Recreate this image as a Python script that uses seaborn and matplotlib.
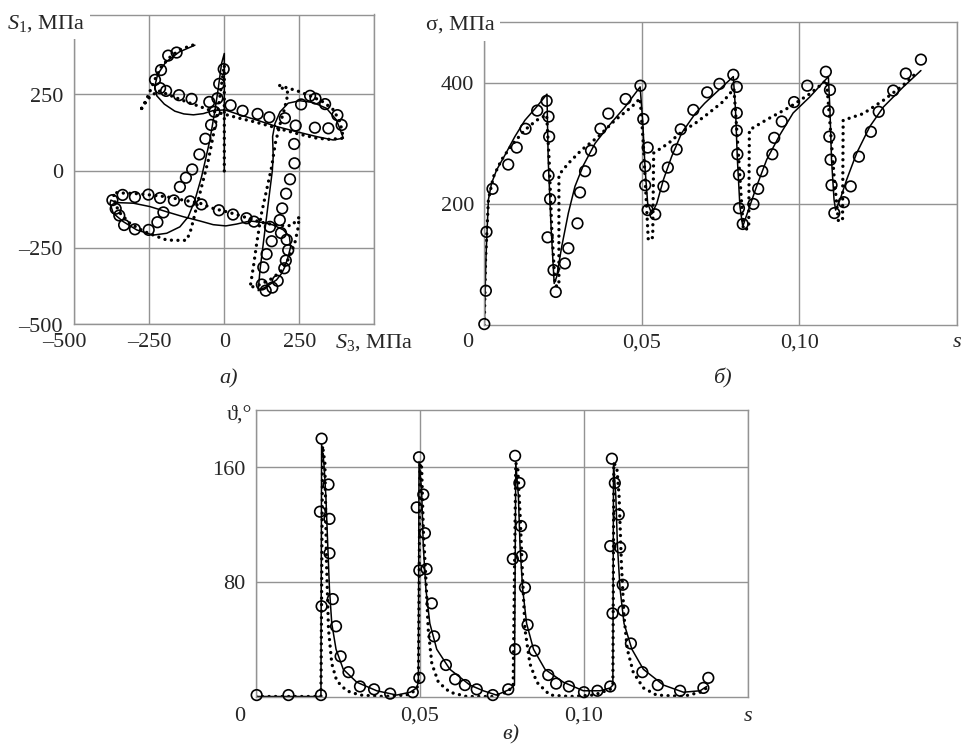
import matplotlib
matplotlib.use("Agg")
import matplotlib.pyplot as plt
import seaborn as sns

# ---------------- panel a: S1 vs S3 (MPa) ----------------
a_exp_s3 = [-2, -17, -23, -50, -109, -151, -194, -214, -231, -211, -187, -159,
            -33, -44, -63, -83, -107, -128, -148, -203, -223, -252, -298, -334,
            -350, -362, -373, -339, -298, -253, -214, -168, -114, -76, -18, 29,
            74, 99, 152, 189, 208, 213, 205, 200, 178, 160, 138, 125, 130, 141,
            158, 185, 193, 206, 219, 234, 233, 238, 302, 347, 391, 377, 336, 304,
            286, 256, 202, 150, 111, 61, 21]
a_exp_s1 = [332, 284, 237, 225, 235, 247, 261, 270, 297, 329, 376, 386,
            193, 150, 105, 54, 5, -22, -52, -135, -167, -192, -190, -176,
            -145, -123, -95, -78, -85, -77, -88, -96, -99, -109, -128, -142,
            -154, -165, -182, -202, -224, -258, -292, -317, -358, -380, -390, -370, -314, -271,
            -229, -160, -122, -74, -27, 25, 88, 148, 141, 139, 150, 182, 218, 236,
            245, 217, 172, 175, 186, 196, 214]

a_sol_s3 = [0, 0,
            -9, -20, -31, -48, -62, -76, -98, -120, -148, -192, -237, -292, -337, -370, -381, -378,
            -359, -303, -248, -192, -137, -81, -37, 5, 41, 86, 130, 163, 197, 217, 221, 213, 202, 191, 174, 141, 113,
            119, 130, 141, 152, 160, 163, 161, 169, 186, 213, 252, 297, 341, 374, 397,
            363, 308, 241, 174, 108, 52, 2, -37, -70, -103, -135, -165, -200, -225, -232, -222, -195, -150, -98]
a_sol_s1 = [0, 383,
            351, 270, 199, 101, 40, -20, -95, -149, -182, -203, -209, -192, -165, -138, -105, -95,
            -103, -105, -116, -133, -149, -163, -175, -179, -173, -163, -168, -176, -192, -214, -247, -279, -312, -334, -355, -377, -390,
            -323, -236, -149, -62, 0, 47, 112, 155, 193, 221, 229, 223, 204, 166, 107,
            101, 112, 128, 145, 166, 183, 199, 197, 187, 183, 186, 195, 218, 245, 275, 315, 355, 388, 410]

a_dot_s3 = [0, 0,
            -8, -18, -30, -42, -53, -70, -87, -103, -114, -126, -160, -192, -226, -270, -314, -345, -363, -370,
            -340, -303, -248, -192, -137, -81, -37, 8, 52, 97, 141, 186, 225, 250, 245, 235, 215, 190, 160, 120, 86,
            97, 108, 124, 141, 158, 170, 185, 200, 213, 180, 202, 241, 286, 330, 363, 386, 397,
            350, 308, 250, 197, 150, 97, 50, 8, -40, -81, -125, -170, -220, -255, -281, -262, -248, -232, -210, -180, -145, -100]
a_dot_s1 = [0, 345,
            290, 220, 150, 90, 36, -29, -95, -160, -200, -226, -226, -225, -213, -196, -171, -140, -110, -70,
            -72, -73, -78, -84, -95, -105, -122, -133, -145, -160, -171, -178, -178, -150, -190, -235, -285, -325, -350, -370, -380,
            -312, -236, -138, -62, 14, 90, 150, 200, 255, 280, 273, 262, 245, 225, 200, 160, 107,
            103, 107, 120, 134, 147, 161, 172, 183, 195, 210, 225, 242, 262, 235, 195, 228, 259, 297, 340, 372, 397, 412]

# ---------------- panel b: sigma (MPa) vs s ----------------
b_exp_s = [0, 0.0005, 0.0007, 0.0026, 0.0076, 0.0103, 0.0131, 0.0168, 0.0198, 0.0204,
           0.0206, 0.0204, 0.0209, 0.0201, 0.0220, 0.0227, 0.0256, 0.0267, 0.0296, 0.0304,
           0.0320, 0.0339, 0.0369, 0.0394, 0.0449, 0.0496, 0.0505, 0.0519, 0.0511, 0.0511,
           0.0519, 0.0543, 0.0569, 0.0583, 0.0611, 0.0624, 0.0664, 0.0708, 0.0747, 0.0791,
           0.0802, 0.0802, 0.0802, 0.0804, 0.0809, 0.0809, 0.0821, 0.0855, 0.0870, 0.0883,
           0.0915, 0.0921, 0.0945, 0.0984, 0.1026, 0.1085, 0.1098, 0.1093, 0.1096, 0.1100,
           0.1103, 0.1112, 0.1142, 0.1164, 0.1190, 0.1228, 0.1253, 0.1299, 0.1339, 0.1387]
b_exp_sig = [2, 57, 154, 225, 265, 293, 324, 354, 370, 344,
             311, 247, 208, 145, 91, 55, 102, 127, 168, 219,
             254, 288, 324, 349, 373, 395, 340, 293, 262, 231,
             190, 183, 229, 260, 290, 323, 355, 384, 398, 413,
             393, 350, 321, 282, 248, 193, 167, 200, 225, 254,
             282, 309, 336, 368, 395, 418, 388, 353, 311, 273,
             231, 185, 203, 229, 278, 319, 352, 387, 415, 438]

b_sol_s = [0, 0.0005, 0.0013, 0.0023, 0.0039, 0.0066, 0.0097, 0.0129, 0.0166, 0.0199,
           0.0203, 0.0212, 0.0222,
           0.0230, 0.0246, 0.0267, 0.0288, 0.0315, 0.0352, 0.0394, 0.0447, 0.0495,
           0.0503, 0.0511, 0.0519, 0.0532,
           0.0548, 0.0569, 0.0595, 0.0627, 0.0670, 0.0700, 0.0739, 0.0791,
           0.0798, 0.0804, 0.0812, 0.0821,
           0.0839, 0.0865, 0.0897, 0.0939, 0.0981, 0.1035, 0.1093,
           0.1098, 0.1103, 0.1111, 0.1116,
           0.1130, 0.1151, 0.1183, 0.1225, 0.1268, 0.1331, 0.1387]
b_sol_sig = [0, 108, 207, 234, 256, 281, 311, 338, 360, 381,
             273, 163, 69,
             80, 130, 185, 229, 264, 300, 328, 360, 393,
             338, 256, 201, 184,
             201, 240, 278, 317, 349, 366, 385, 410,
             355, 273, 196, 163,
             190, 229, 273, 314, 350, 377, 410,
             355, 273, 207, 190,
             207, 240, 284, 328, 360, 393, 420]

b_dot_s = [0, 0.0004, 0.0013, 0.0029, 0.0055, 0.0087, 0.0129, 0.0166, 0.0198,
           0.0206, 0.0214, 0.0225,
           0.0237, 0.0237, 0.0267, 0.0309, 0.0362, 0.0415, 0.0468, 0.0495,
           0.0505, 0.0513, 0.0521,
           0.0535, 0.0538, 0.0585, 0.0627, 0.0670, 0.0706, 0.0759, 0.0793,
           0.0805, 0.0815, 0.0823,
           0.0840, 0.0842, 0.0897, 0.0971, 0.1035, 0.1087,
           0.1100, 0.1112, 0.1125,
           0.1138, 0.1140, 0.1204, 0.1268, 0.1331, 0.1376]
b_dot_sig = [0, 108, 207, 245, 273, 297, 322, 338, 347,
             273, 163, 65,
             65, 248, 267, 289, 311, 338, 360, 374,
             300, 220, 140,
             145, 284, 300, 319, 333, 347, 369, 390,
             300, 220, 157,
             160, 322, 339, 360, 382, 404,
             320, 240, 171,
             175, 338, 349, 371, 396, 418]

# ---------------- panel c: theta (deg) vs s ----------------
c_exp_s = [0.0002, 0.0099, 0.0198, 0.0200, 0.0195, 0.0200, 0.0221, 0.0224, 0.0224, 0.0234,
           0.0244, 0.0258, 0.0282, 0.0317, 0.0360, 0.0409, 0.0478, 0.0498, 0.0497, 0.0490,
           0.0510, 0.0515, 0.0498, 0.0520, 0.0536, 0.0543, 0.0579, 0.0607, 0.0637, 0.0673,
           0.0722, 0.0769, 0.0790, 0.0783, 0.0790, 0.0803, 0.0808, 0.0810, 0.0820, 0.0828,
           0.0849, 0.0891, 0.0915, 0.0954, 0.1000, 0.1041, 0.1080, 0.1085, 0.1080, 0.1087,
           0.1094, 0.1106, 0.1110, 0.1118, 0.1120, 0.1143, 0.1178, 0.1225, 0.1293, 0.1364,
           0.1379]
c_exp_th = [1, 1, 1, 63, 129, 180, 148, 124, 100, 68,
            49, 28, 17, 7, 5, 2, 3, 13, 167, 132,
            141, 114, 88, 89, 65, 42, 22, 12, 8, 5,
            1, 5, 33, 96, 168, 149, 119, 98, 76, 50,
            32, 15, 9, 7, 3, 4, 7, 166, 105, 58,
            149, 127, 104, 78, 60, 37, 17, 8, 4, 6,
            13]

c_sol_s = [0, 0.0198, 0.0200, 0.0207, 0.0213, 0.0218, 0.0224, 0.0231, 0.0244, 0.0266, 0.0307, 0.0368, 0.0429, 0.0470, 0.0490, 0.0495,
           0.0497, 0.0505, 0.0510, 0.0518, 0.0530, 0.0551, 0.0591, 0.0652, 0.0693, 0.0733, 0.0774, 0.0788,
           0.0792, 0.0800, 0.0805, 0.0813, 0.0825, 0.0846, 0.0881, 0.0937, 0.0998, 0.1049, 0.1080, 0.1088,
           0.1090, 0.1097, 0.1102, 0.1110, 0.1122, 0.1146, 0.1181, 0.1242, 0.1303, 0.1354, 0.1374]
c_sol_th = [0, 0, 176, 163, 140, 110, 75, 51, 33, 19, 10, 4, 1, 3, 6, 10,
            164, 144, 105, 75, 51, 33, 19, 8, 4, 1, 5, 8,
            163, 140, 105, 75, 51, 33, 19, 10, 4, 4, 6, 8,
            163, 140, 105, 75, 51, 33, 19, 8, 3, 4, 7]

c_dot_s = [0, 0.0198, 0.0203, 0.0210, 0.0215, 0.0221, 0.0231, 0.0246, 0.0276, 0.0317, 0.0388, 0.0459, 0.0485, 0.0495,
           0.0500, 0.0505, 0.0510, 0.0518, 0.0525, 0.0536, 0.0556, 0.0591, 0.0642, 0.0720, 0.0764, 0.0784,
           0.0792, 0.0798, 0.0805, 0.0813, 0.0820, 0.0835, 0.0856, 0.0896, 0.0957, 0.1030, 0.1080, 0.1088,
           0.1091, 0.1100, 0.1107, 0.1114, 0.1122, 0.1132, 0.1150, 0.1181, 0.1221, 0.1302, 0.1354, 0.1374]
c_dot_th = [0, 0, 175, 163, 93, 47, 23, 11, 4, 1, 0, 1, 4, 8,
            163, 160, 117, 82, 47, 23, 10, 3, 0, 0, 3, 7,
            163, 160, 128, 82, 47, 23, 10, 1, 0, 1, 5, 8,
            163, 160, 140, 93, 56, 33, 17, 6, 1, 0, 3, 6]

# tick labels
a_ticks = [-500, -250, 0, 250]
a_ticklabels = ["–500", "–250", "0", "250"]
b_xticks = [0.05, 0.10]
b_xticklabels = ["0,05", "0,10"]
b_yticks = [200, 400]
c_xticks = [0.05, 0.10]
c_xticklabels = ["0,05", "0,10"]
c_yticks = [80, 160]

# ---------------- styling ----------------
sns.set_theme(style="white")
plt.rcParams["font.family"] = ["Liberation Serif", "DejaVu Serif"]
plt.rcParams["mathtext.fontset"] = "custom"
plt.rcParams["mathtext.rm"] = "Liberation Serif"
plt.rcParams["mathtext.it"] = "Liberation Serif:italic"
plt.rcParams["axes.unicode_minus"] = False

W, H = 963, 751
fig = plt.figure(figsize=(W / 100, H / 100), dpi=100)
fig.patch.set_facecolor("white")
FS = 16
GRID = "#939393"


def add_axes_px(l, t, r, b):
    return fig.add_axes([l / W, 1 - b / H, (r - l) / W, (b - t) / H])


axA = add_axes_px(74.3, 14.5, 374.3, 324.4)
axB = add_axes_px(484.3, 22.0, 956.5, 325.3)
axC = add_axes_px(256.0, 410.0, 748.0, 696.5)


def draw(ax, sx, sy, dx, dy, ex, ey):
    sns.lineplot(x=sx, y=sy, sort=False, estimator=None, color="black",
                 linewidth=1.1, ax=ax, zorder=2)
    sns.lineplot(x=dx, y=dy, sort=False, estimator=None, color="black",
                 linewidth=2.4, linestyle=(0, (0.01, 1.95)),
                 dash_capstyle="round", ax=ax, zorder=2)
    sns.scatterplot(x=ex, y=ey, marker="o", s=58, facecolor="none",
                    edgecolor="black", linewidth=1.2, ax=ax, zorder=3,
                    clip_on=False)


def frame(ax, xlim, ylim, xt, yt):
    ax.set_xlim(*xlim)
    ax.set_ylim(*ylim)
    ax.set_xticks(xt)
    ax.set_yticks(yt)
    ax.set_xticklabels([])
    ax.set_yticklabels([])
    ax.tick_params(length=0)
    ax.grid(True, color=GRID, linewidth=1.0)
    ax.set_axisbelow(True)
    for sp in ax.spines.values():
        sp.set_visible(True)
        sp.set_color(GRID)
        sp.set_linewidth(1.0)
    ax.set_xlabel("")
    ax.set_ylabel("")


def xlab(ax, x, text, dy, dx=0, ha="center", **kw):
    ax.annotate(text, xy=(x, 0), xycoords=("data", "axes fraction"),
                xytext=(dx, -dy), textcoords="offset pixels", ha=ha,
                va="baseline", fontsize=FS, annotation_clip=False, **kw)


def ylab(ax, y, text, dx):
    ax.annotate(text, xy=(0, y), xycoords=("axes fraction", "data"),
                xytext=(-dx, -7.5), textcoords="offset pixels", ha="right",
                va="baseline", fontsize=FS, annotation_clip=False)


# panel a
draw(axA, a_sol_s3, a_sol_s1, a_dot_s3, a_dot_s1, a_exp_s3, a_exp_s1)
frame(axA, (-500, 500), (-500, 510), [-500, -250, 0, 250, 500], a_ticks)
for v, t in zip(a_ticks, a_ticklabels):
    ylab(axA, v, t, 11.3)
    xlab(axA, v, t, 23.0, dx=(-10 if v == -500 else 0))
xlab(axA, 500, "$S_3$, МПа", 23.0)

# panel b
draw(axB, b_sol_s, b_sol_sig, b_dot_s, b_dot_sig, b_exp_s, b_exp_sig)
frame(axB, (0, 0.15), (0, 500), [0, 0.05, 0.10, 0.15], b_yticks)
for v in b_yticks:
    ylab(axB, v, str(v), 10.3)
for v, t in zip(b_xticks, b_xticklabels):
    xlab(axB, v, t, 22.0)
xlab(axB, 0, "0", 22.0, dx=-11, ha="right")
xlab(axB, 0.15, "$s$", 22.0)

# panel c
draw(axC, c_sol_s, c_sol_th, c_dot_s, c_dot_th, c_exp_s, c_exp_th)
frame(axC, (0, 0.15), (0, 200), [0, 0.05, 0.10, 0.15], c_yticks)
for v in c_yticks:
    ylab(axC, v, str(v), 10.5)
for v, t in zip(c_xticks, c_xticklabels):
    xlab(axC, v, t, 24.5)
xlab(axC, 0, "0", 24.5, dx=-11, ha="right")
xlab(axC, 0.15, "$s$", 24.5)

# axis titles at the corners
box = dict(facecolor="white", edgecolor="none", pad=4)
fig.text(7.0 / W, 1 - 28.3 / H, "$S_1$, МПа", ha="left", va="baseline",
         fontsize=FS, bbox=box)
fig.text(426.0 / W, 1 - 30.0 / H, "σ, МПа", ha="left", va="baseline",
         fontsize=FS, bbox=box)
fig.text(252.0 / W, 1 - 419.4 / H, "ϑ,°", ha="right", va="baseline",
         fontsize=FS)

# panel captions
fig.text(229 / W, 1 - 383 / H, "а)", ha="center", va="baseline",
         fontsize=FS, style="italic")
fig.text(722.5 / W, 1 - 383 / H, "б)", ha="center", va="baseline",
         fontsize=FS, style="italic")
fig.text(511 / W, 1 - 739.5 / H, "в)", ha="center", va="baseline",
         fontsize=FS, style="italic")

fig.savefig("out.png", dpi=100, facecolor="white")
